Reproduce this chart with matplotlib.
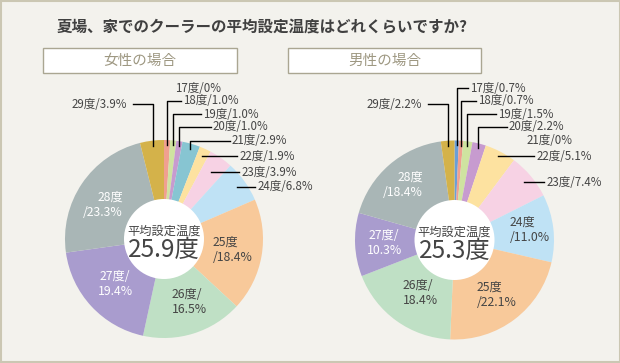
import numpy as np
import matplotlib
matplotlib.use("Agg")
import matplotlib.pyplot as plt
from matplotlib.patches import Circle, Rectangle

plt.rcParams['font.family'] = ['Noto Sans CJK JP', 'DejaVu Sans']

# データ
temps = ['17度', '18度', '19度', '20度', '21度', '22度', '23度', '24度',
         '25度', '26度', '27度', '28度', '29度']
female = [0, 1.0, 1.0, 1.0, 2.9, 1.9, 3.9, 6.8, 18.4, 16.5, 19.4, 23.3, 3.9]
male = [0.7, 0.7, 1.5, 2.2, 0, 5.1, 7.4, 11.0, 22.1, 18.4, 10.3, 18.4, 2.2]
female_avg = '25.9度'
male_avg = '25.3度'
colors = ['#6a9fd8', '#f0a090', '#cfe3a0', '#c79bcf', '#87c5d2', '#fde2a0',
          '#f7d2e4', '#bfe2f5', '#f8c99a', '#bfe0c5', '#a99cce', '#a9b6b6',
          '#d4b24a']

BG = '#f3f2ed'
TXT = '#454545'

# 外側ラベルの位置 (x, y, 線の種類)  v=縦線, h=横線, n=線なし, l=左側
f_outer = {0: (175, 88, 'n'), 1: (183, 101, 'v'), 2: (203, 114, 'v'),
           3: (213, 127, 'v'), 4: (232, 141, 'v'), 5: (240, 156, 'h'),
           6: (242, 172, 'h'), 7: (258, 187, 'h'), 12: (127, 104, 'l')}
m_outer = {0: (470, 88, 'v'), 1: (478, 101, 'v'), 2: (498, 114, 'v'),
           3: (509, 127, 'v'), 4: (527, 141, 'n'), 5: (537, 156, 'h'),
           6: (547, 182, 'h'), 12: (422, 104, 'l')}
# 内側ラベル (x, y, ha, 改行位置, 色)
f_inner = {8: (213, 250, 'left', 'after', TXT), 9: (172, 302, 'left', 'before', TXT),
           10: (115, 284, 'center', 'before', 'white'),
           11: (123, 205, 'right', 'after', 'white')}
m_inner = {7: (510, 230, 'left', 'after', TXT), 8: (477, 295, 'left', 'after', TXT),
           9: (403, 293, 'left', 'before', TXT),
           10: (384, 243, 'center', 'before', 'white'),
           11: (423, 185, 'right', 'after', 'white')}

fig = plt.figure(figsize=(6.2, 3.63), dpi=100, facecolor=BG)
ax = fig.add_axes([0, 0, 1, 1])
ax.set_facecolor(BG)


def draw(cx, cy, r, values, outer, inner, avg):
    ax.pie(values, colors=colors, center=(cx, cy), radius=r,
           startangle=-90, counterclock=True,
           wedgeprops=dict(linewidth=0))
    ax.add_patch(Circle((cx, cy), 40, facecolor='white', edgecolor='none', zorder=3))
    ax.text(cx, cy - 8, '平均設定温度', ha='center', va='center', fontsize=8.8,
            color=TXT, zorder=4)
    ax.text(cx, cy + 11, avg, ha='center', va='center', fontsize=17.5,
            color=TXT, zorder=4)
    cum = np.concatenate([[0], np.cumsum(values)])
    for i, (tx, ty, kind) in outer.items():
        label = f'{temps[i]}/{values[i]:g}%' if values[i] == 0 else f'{temps[i]}/{values[i]:.1f}%'
        mid = np.radians(360 * (cum[i] + values[i] / 2) / 100)
        s, c = np.sin(mid), np.cos(mid)
        if kind == 'l':
            ax.text(tx, ty, label, ha='right', va='center', fontsize=8.3, color=TXT)
            x0 = cx + r * 0.95 * s
            y0 = cy - r * 0.95 * c
            ax.plot([tx + 6, x0, x0], [ty, ty, y0], color='black', lw=1, zorder=5)
            continue
        ax.text(tx, ty, label, ha='left', va='center', fontsize=8.3, color=TXT)
        if kind == 'v':
            x0 = cx + r * 0.95 * s
            y0 = cy - r * 0.95 * c
            ax.plot([tx - 2, x0, x0], [ty, ty, y0], color='black', lw=1, zorder=5)
        elif kind == 'h':
            t = (cy - ty) / c
            x0 = cx + t * s
            ax.plot([x0, tx - 3], [ty, ty], color='black', lw=1, zorder=5)
    for i, (tx, ty, ha, brk, col) in inner.items():
        if brk == 'after':
            label = f'{temps[i]}\n/{values[i]:.1f}%'
        else:
            label = f'{temps[i]}/\n{values[i]:.1f}%'
        ax.text(tx, ty, label, ha=ha, va='center', multialignment=ha,
                fontsize=8.8, color=col, linespacing=1.2, zorder=4)


draw(164, 239, 99, female, f_outer, f_inner, female_avg)
draw(454.5, 240, 99.5, male, m_outer, m_inner, male_avg)

# タイトルと見出し
ax.text(262, 27, '夏場、家でのクーラーの平均設定温度はどれくらいですか?',
        ha='center', va='center', fontsize=11.2, fontweight='bold', color='#404040')
for x0, x1, name in [(43, 237, '女性の場合'), (288, 481, '男性の場合')]:
    ax.add_patch(Rectangle((x0, 48), x1 - x0, 25, facecolor='white',
                           edgecolor='#aaa692', lw=1))
    ax.text((x0 + x1) / 2, 60.5, name, ha='center', va='center', fontsize=10.5,
            color='#9e9882')

# 外枠
ax.add_patch(Rectangle((0.5, 0.5), 619, 361.5, facecolor='none',
                       edgecolor='#cbc7b3', lw=1.5))

ax.set_xlim(0, 620)
ax.set_ylim(363, 0)
ax.set_aspect('auto')
ax.axis('off')
fig.savefig('out.png', dpi=100, facecolor=BG)
